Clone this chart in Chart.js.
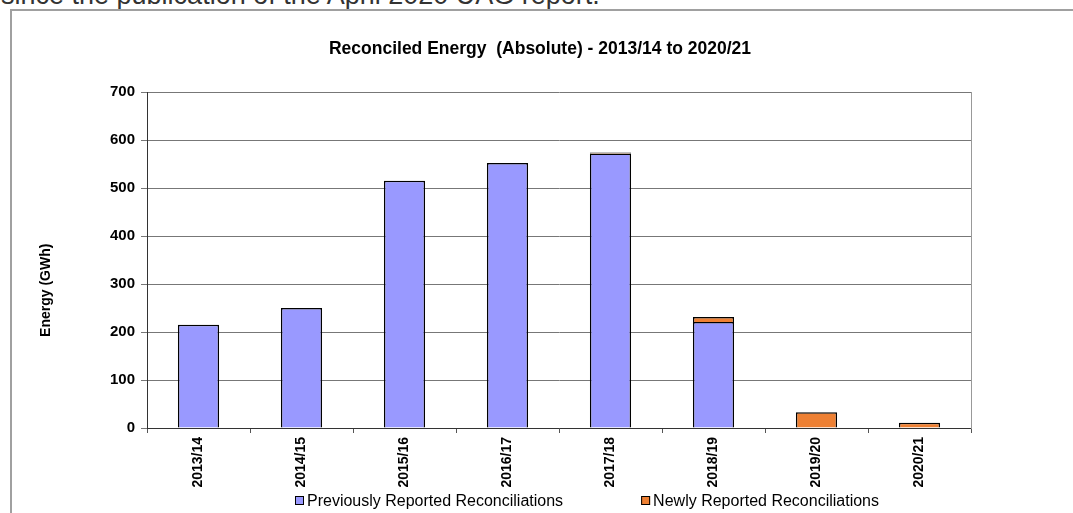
<!DOCTYPE html>
<html>
<head>
<meta charset="utf-8">
<title>Reconciled Energy</title>
<script src="https://cdn.jsdelivr.net/npm/chart.js@4"></script>
<style>
  html, body { margin: 0; padding: 0; width: 1073px; height: 513px; overflow: hidden; background: #fff; }
  #intro { position: absolute; left: 1px; top: -18px; font: 27px "Liberation Sans", Arial, sans-serif; line-height: 27px; color: #333; white-space: nowrap; }
  #frame { position: absolute; left: 10px; top: 9px; width: 1100px; height: 600px; border-top: 2px solid #a0a0a0; border-left: 2px solid #a0a0a0; }
  #wrap { position: absolute; left: 0; top: 0; width: 1080px; height: 513px; }
</style>
</head>
<body>
<div id="intro">since the publication of the April 2020 UAG report.</div>
<div id="frame"></div>
<div id="wrap"><canvas id="energyChart"></canvas></div>
<script>
// values (GWh)
var years = ["2013/14", "2014/15", "2015/16", "2016/17", "2017/18", "2018/19", "2019/20", "2020/21"];
var previouslyReported = [215, 250, 515, 552, 572, 221, null, null];
var newlyReported = [null, null, null, null, 2, 10, 33, 11];
var seriesNames = ["Previously Reported Reconciliations", "Newly Reported Reconciliations"];
var seriesColours = ["#9999ff", "#ee8033"];
var yAxisName = "Energy (GWh)";

Chart.defaults.font.family = '"Liberation Sans", Arial, sans-serif';
Chart.defaults.color = "#000";

// legend and y title drawn by hand so they sit where the spreadsheet put them
var extras = {
  id: "extras",
  afterDraw: function(chart) {
    var ctx = chart.ctx;
    var gap = 78, box = 9;
    ctx.save();
    // y axis title, a bit below the middle of the plot
    ctx.font = 'bold 14px "Liberation Sans", Arial, sans-serif';
    ctx.textAlign = "center";
    ctx.textBaseline = "middle";
    ctx.translate(46, chart.chartArea.top + chart.chartArea.height * 0.59);
    ctx.rotate(-Math.PI / 2);
    ctx.fillText(yAxisName, 0, 0);
    ctx.restore();

    ctx.save();
    ctx.font = '16px "Liberation Sans", Arial, sans-serif';
    ctx.textBaseline = "middle";
    var widths = chart.data.datasets.map(function(ds) { return box + 3 + ctx.measureText(ds.label).width; });
    var total = widths[0] + gap + widths[1];
    var x = 587 - total / 2, y = 500.5;
    chart.data.datasets.forEach(function(ds, i) {
      ctx.fillStyle = ds.backgroundColor;
      ctx.fillRect(x, y - box / 2, box, box);
      ctx.strokeStyle = "#000";
      ctx.lineWidth = 1;
      ctx.strokeRect(x + 0.5, y - box / 2 + 0.5, box - 1, box - 1);
      ctx.fillStyle = "#000";
      ctx.fillText(ds.label, x + box + 3, y + 1);
      x += widths[i] + gap;
    });
    ctx.restore();
  }
};

var chart = new Chart("energyChart", {
  type: "bar",
  data: {
    labels: years,
    datasets: [{
      label: seriesNames[0],
      data: previouslyReported,
      backgroundColor: seriesColours[0],
      borderColor: "#000",
      borderWidth: 1.5,
      barPercentage: 0.4,
      categoryPercentage: 1
    }, {
      label: seriesNames[1],
      data: newlyReported,
      backgroundColor: seriesColours[1],
      borderColor: "#000",
      borderWidth: 1.5,
      barPercentage: 0.4,
      categoryPercentage: 1
    }]
  },
  options: {
    responsive: true,
    maintainAspectRatio: false,
    animation: false,
    layout: { padding: { top: 0, left: 0, right: 0, bottom: 20 } },
    plugins: {
      legend: { display: false },
      tooltip: { enabled: false },
      title: {
        display: true,
        text: "Reconciled Energy  (Absolute) - 2013/14 to 2020/21",
        font: { size: 17.5, weight: "bold" },
        color: "#000",
        padding: { top: 39, bottom: 32 }
      }
    },
    scales: {
      x: {
        stacked: true,
        grid: { drawOnChartArea: false, tickLength: 5, color: "#555" },
        border: { color: "#333" },
        ticks: { minRotation: 90, maxRotation: 90, autoSkip: false, padding: 4, font: { size: 14, weight: "bold" } },
        afterFit: function(s) { s.height = 65; }
      },
      y: {
        stacked: true,
        min: 0,
        max: 700,
        ticks: { stepSize: 100, padding: 6, font: { size: 15, weight: "bold" } },
        grid: { color: "#777", tickLength: 6 },
        border: { color: "#333" },
        afterFit: function(s) { s.width = 147; }
      },
      y2: {
        position: "right",
        grid: { display: false },
        ticks: { display: false },
        border: { color: "#999" },
        afterFit: function(s) { s.width = 109; }
      }
    }
  },
  plugins: [extras]
});
</script>
</body>
</html>
